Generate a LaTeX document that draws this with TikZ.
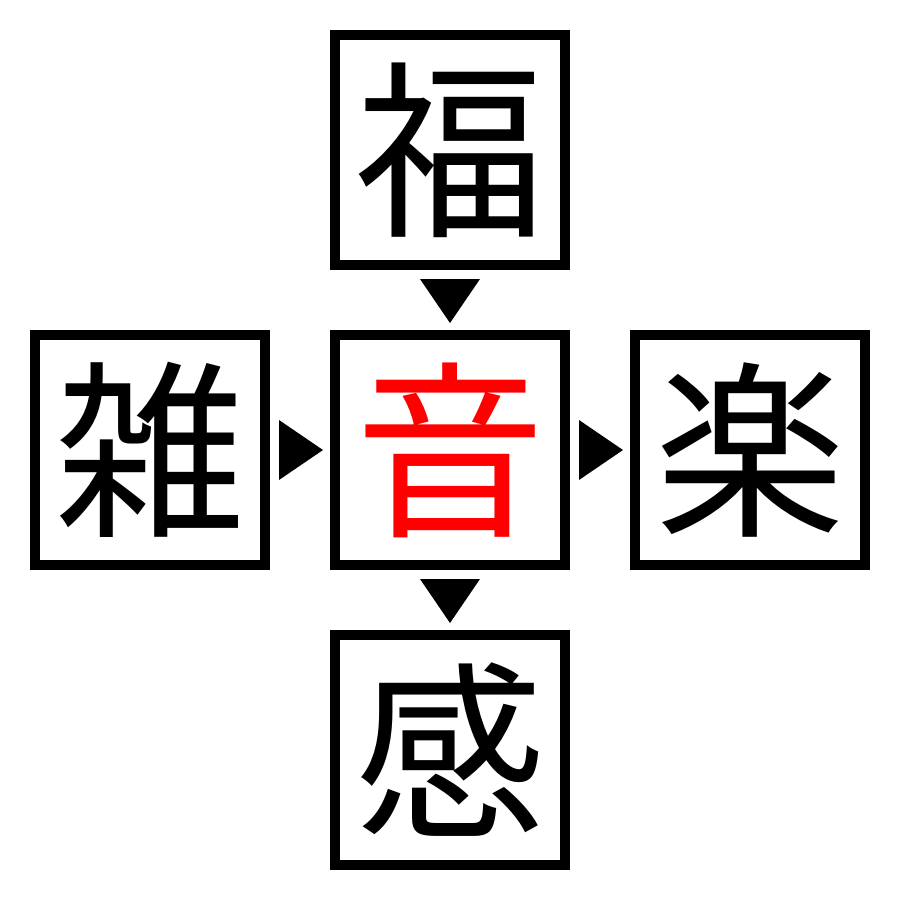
\documentclass[tikz,border=0pt]{standalone}
\usepackage{fontspec}
\usetikzlibrary{calc}
\newfontfamily\cjk{Noto Sans CJK JP}
\begin{document}
\begin{tikzpicture}[x=1pt,y=-1pt,
  kbox/.style={draw=black,line width=10pt,minimum width=230pt,minimum height=230pt,inner sep=0pt,font=\cjk\fontsize{190}{190}\selectfont},
  tri/.style={fill=black,draw=none}]
\useasboundingbox (0,0) rectangle (900,900);
\node[kbox] (fu) at (450,150) {福};
\node[kbox] (zatsu) at (150,450) {雑};
\node[kbox,text=red] (on) at (450,450) {音};
\node[kbox] (raku) at (750,450) {楽};
\node[kbox] (kan) at (450,750) {感};
% down triangles
\coordinate (d1) at ($(fu.south)!0.5!(on.north)$);
\fill[tri] ($(d1)+(-30,-21)$) -- ($(d1)+(30,-21)$) -- ($(d1)+(0,23)$) -- cycle;
\coordinate (d2) at ($(on.south)!0.5!(kan.north)$);
\fill[tri] ($(d2)+(-30,-21)$) -- ($(d2)+(30,-21)$) -- ($(d2)+(0,23)$) -- cycle;
% right triangles
\coordinate (r1) at ($(zatsu.east)!0.5!(on.west)$);
\fill[tri] ($(r1)+(-21,-30)$) -- ($(r1)+(-21,30)$) -- ($(r1)+(23,0)$) -- cycle;
\coordinate (r2) at ($(on.east)!0.5!(raku.west)$);
\fill[tri] ($(r2)+(-21,-30)$) -- ($(r2)+(-21,30)$) -- ($(r2)+(23,0)$) -- cycle;
\end{tikzpicture}
\end{document}
